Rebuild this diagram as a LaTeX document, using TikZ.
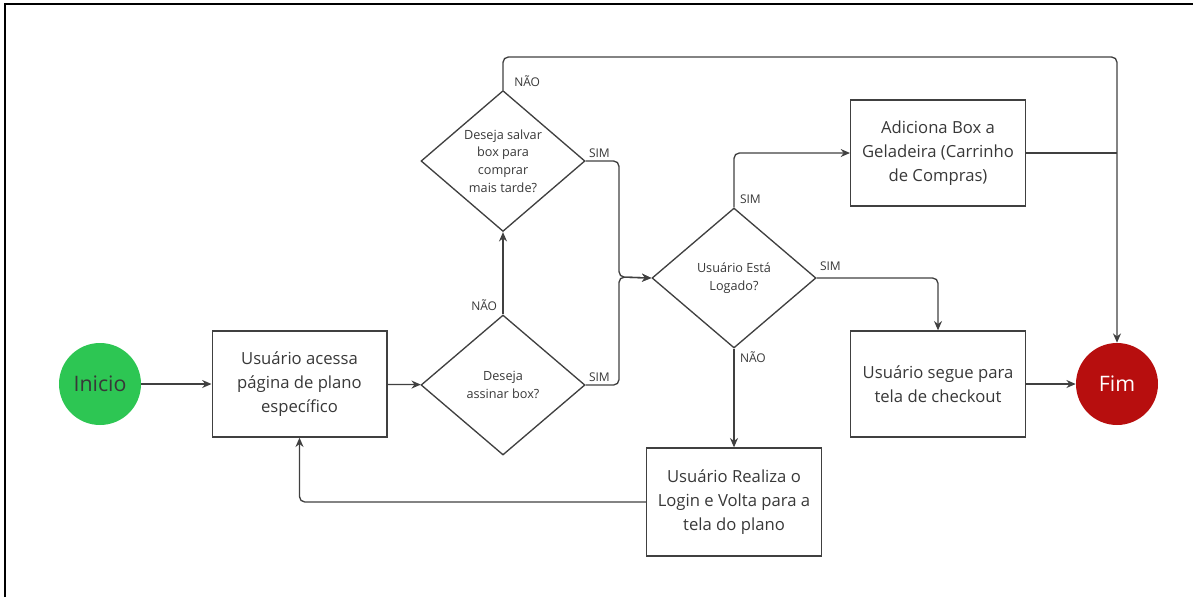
\documentclass[tikz,border=0pt]{standalone}
\usepackage{fontspec}
\setmainfont{Open Sans}
\usetikzlibrary{positioning, arrows.meta, shapes.geometric}
\definecolor{linegray}{HTML}{404040}
\definecolor{textgray}{HTML}{383838}
\definecolor{startgreen}{HTML}{2DC653}
\definecolor{endred}{HTML}{B70E0E}
\tikzstyle{startstop} = [circle, minimum size=61.5pt, inner sep=0pt, text=textgray, font=\fontsize{16}{19}\selectfont]
\tikzstyle{process} = [rectangle, minimum width=131pt, minimum height=79.5pt, align=center, draw=linegray, line width=1pt, text=textgray, font=\fontsize{12.5}{18}\selectfont]
\tikzstyle{decision} = [diamond, minimum width=123pt, minimum height=105pt, inner sep=0pt, align=center, draw=linegray, line width=1pt, text=textgray, font=\fontsize{9.5}{13.3}\selectfont]
\tikzstyle{connector} = [line width=1pt, draw=linegray, rounded corners=4pt]
\tikzstyle{arrow} = [connector, ->, >={Stealth[length=7pt,width=6pt]}]
\tikzstyle{answer} = [inner sep=2pt, text=textgray, font=\fontsize{9}{11}\selectfont]

\begin{document}
\begin{tikzpicture}[x=0.75pt, y=-0.75pt]
\useasboundingbox (0,0) rectangle (1193,597);
\draw [line width=1.5pt] (5,597) -- (5,4) -- (1193,4);

\node (start) [startstop, fill=startgreen] at (100,384) {Inicio};
\node (access) [process] at (299.5,384) {Usuário acessa\\página de plano\\específico};
\node (subscribe) [decision] at (503,385) {Deseja\\assinar box?};
\node (save) [decision] at (503,161) {Deseja salvar\\box para\\comprar\\mais tarde?};
\node (logged) [decision] at (734,278) {Usuário Está\\Logado?};
\node (cart) [process] at (938,153) {Adiciona Box a\\Geladeira (Carrinho\\de Compras)};
\node (checkout) [process] at (938,384) {Usuário segue para\\tela de checkout};
\node (login) [process, minimum height=81pt] at (734,502) {Usuário Realiza o\\Login e Volta para a\\tela do plano};
\node (end) [startstop, fill=endred, text=white] at (1117,384) {Fim};

\coordinate (merge) at (619,277);
\coordinate (corner) at (1117,57);

\draw [arrow] (start) -- (access);
\draw [arrow] (access) -- (subscribe);
\draw [arrow] (subscribe.north) node [answer, anchor=south east, xshift=-2pt] {NÃO} -- (save.south);
\draw [arrow] (save.north) node [answer, anchor=south west, xshift=6pt] {NÃO} |- (corner) -- (end.north);
\draw [arrow] (save.east) node [answer, anchor=south west] {SIM} -| (merge) -- (logged.west);
\draw [arrow] (subscribe.east) node [answer, anchor=south west] {SIM} -| (merge) -- (logged.west);
\draw [arrow] (logged.north) node [answer, anchor=south west, xshift=2pt] {SIM} |- (cart.west);
\draw [arrow] (logged.east) node [answer, anchor=south west, yshift=3pt] {SIM} -| (checkout.north);
\draw [arrow] (logged.south) node [answer, anchor=north west, xshift=2pt] {NÃO} -- (login.north);
\draw [connector] (cart.east) -- (cart.east -| corner);
\draw [arrow] (checkout) -- (end);
\draw [arrow] (login.west) -| (access.south);
\end{tikzpicture}
\end{document}
